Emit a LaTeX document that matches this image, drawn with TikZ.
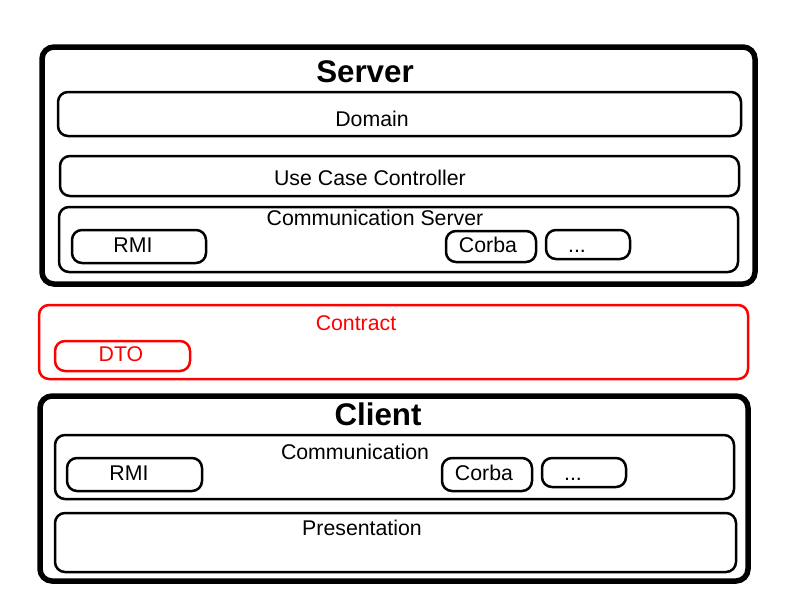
\documentclass[tikz,border=0pt]{standalone}
\usepackage{fontspec}
\setmainfont{Liberation Sans}
\usepackage{tikz}
\usetikzlibrary{calc}

\begin{document}
\begin{tikzpicture}[x=1pt, y=-1pt,
    outbox/.style={draw=black, line width=5.5pt, rounded corners=12pt, inner sep=0pt},
    inbox/.style={draw=black, line width=2.5pt, rounded corners=10pt, inner sep=0pt},
    redbox/.style={draw=red, line width=2.5pt, rounded corners=10pt, inner sep=0pt},
    txt/.style={anchor=base, inner sep=0pt, font=\fontsize{21.3}{25}\selectfont},
    title/.style={anchor=base, inner sep=0pt, font=\fontsize{31.3}{37}\selectfont\bfseries}]

    \useasboundingbox (0,0) rectangle (800,600);

    %server
    \node[outbox, minimum width=713, minimum height=237] (server) at (398.5,165.5) {};
    \node[title] (servertxt) at (365,82.5) {Server};
    \node[inbox, minimum width=683, minimum height=44] (domain) at (399.5,114) {};
    \node[txt] (domaintxt) at (372,126.5) {Domain};
    \node[inbox, minimum width=679, minimum height=40] (ucc) at (399.5,176) {};
    \node[txt] (ucctxt) at (370,185) {Use Case Controller};
    \node[inbox, minimum width=679, minimum height=65] (commserver) at (398.5,239.5) {};
    \node[txt] (commservertxt) at (375,225) {Communication Server};
    \node[inbox, minimum width=134, minimum height=33] (rmis) at (139,246.5) {};
    \node[txt] (rmistxt) at (133,252) {RMI};
    \node[inbox, minimum width=90, minimum height=31] (corbas) at (491,246.5) {};
    \node[txt] (corbastxt) at (488,252) {Corba};
    \node[inbox, minimum width=84, minimum height=29] (dotss) at (588,244.5) {};
    \node[txt] (dotsstxt) at (577,252) {...};

    %contract
    \node[redbox, minimum width=709, minimum height=74] (contract) at (393.5,342) {};
    \node[txt, red] (contracttxt) at (356,330) {Contract};
    \node[redbox, minimum width=135, minimum height=30] (dto) at (122.5,356) {};
    \node[txt, red] (dtotxt) at (121,361) {DTO};

    %client
    \node[outbox, minimum width=708, minimum height=185] (client) at (394,488.5) {};
    \node[title] (clienttxt) at (378,425) {Client};
    \node[inbox, minimum width=679, minimum height=64] (comm) at (394.5,467) {};
    \node[txt] (commtxt) at (355,459) {Communication};
    \node[inbox, minimum width=135, minimum height=33] (rmic) at (134.5,474.5) {};
    \node[txt] (rmictxt) at (129,480) {RMI};
    \node[inbox, minimum width=90, minimum height=33] (corbac) at (487,474.5) {};
    \node[txt] (corbactxt) at (484,480) {Corba};
    \node[inbox, minimum width=84, minimum height=29] (dotsc) at (584,472.5) {};
    \node[txt] (dotsctxt) at (573,480) {...};
    \node[inbox, minimum width=681, minimum height=59] (pres) at (395.5,542.5) {};
    \node[txt] (prestxt) at (362,535) {Presentation};

\end{tikzpicture}
\end{document}
